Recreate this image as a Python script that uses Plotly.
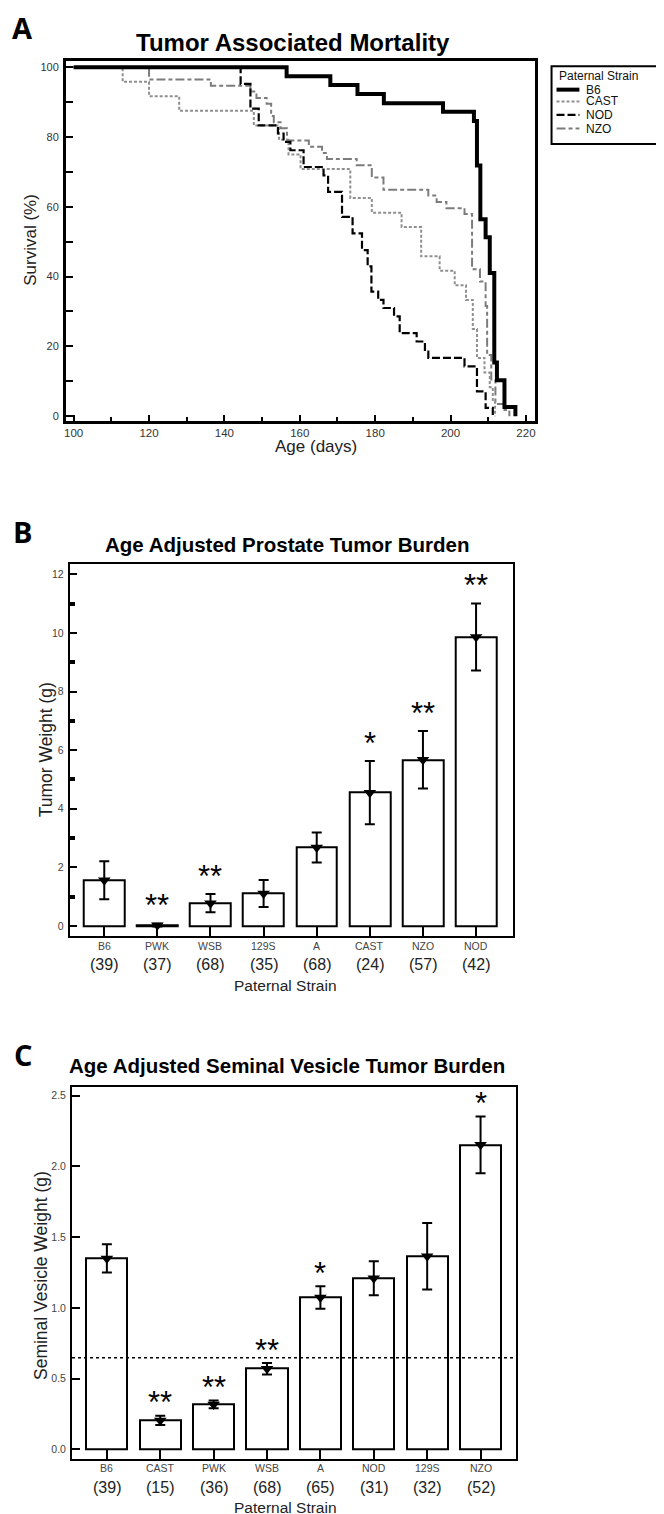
import plotly.graph_objects as go

W, H = 664, 1514

# ---------------- Panel A: survival curves ----------------
b6_age = [100, 156.5, 168.1, 175.3, 182.3, 198.0, 206.2, 207.0, 207.9, 209.3, 210.4, 211.6, 212.3, 214.3, 217.2]
b6_surv = [100, 97.4, 94.9, 92.3, 89.7, 87.2, 84.6, 71.8, 56.4, 51.3, 41.0, 15.4, 10.3, 2.6, 0]

cast_age = [100, 113.0, 120.0, 128.0, 147.8, 154.5, 157.0, 160.2, 173.4, 179.1, 187.0, 192.2, 197.1, 201.1, 204.1, 205.9, 207.0, 209.0, 210.4, 211.2, 211.8]
cast_surv = [100, 95.8, 91.7, 87.5, 83.3, 79.2, 75.0, 70.8, 62.5, 58.3, 54.2, 45.8, 41.7, 37.5, 33.3, 25.0, 16.7, 12.5, 8.3, 4.2, 0]

nod_age = [100, 144.3, 146.9, 149.1, 154.2, 155.7, 157.5, 161.0, 166.3, 167.5, 171.2, 174.0, 176.5, 178.0, 179.0, 180.8, 182.2, 185.0, 186.5, 191.0, 193.2, 194.1, 203.7, 207.0, 209.3, 211.2]
nod_surv = [100, 95.2, 88.1, 83.3, 81.0, 78.6, 76.2, 71.4, 69.0, 64.3, 57.1, 52.4, 47.6, 42.9, 35.7, 33.3, 31.0, 28.6, 23.8, 21.4, 19.0, 16.7, 14.3, 7.1, 2.4, 0]

nzo_age = [100, 120.0, 136.4, 146.9, 148.5, 151.2, 152.4, 153.1, 154.9, 156.6, 162.4, 165.9, 167.2, 175.1, 179.1, 182.2, 194.1, 196.3, 198.9, 203.7, 205.7, 207.8, 209.3, 209.7, 210.8, 211.9, 214.3, 215.6]
nzo_surv = [100, 96.5, 94.7, 93.0, 91.2, 89.5, 86.0, 84.2, 82.5, 79.0, 77.2, 75.4, 73.7, 71.9, 68.4, 64.9, 63.2, 61.4, 59.6, 57.9, 42.1, 38.6, 31.6, 17.5, 10.5, 3.5, 1.8, 0]

strain_names = ["B6", "CAST", "NOD", "NZO"]

# ---------------- Panel B: prostate tumor burden ----------------
pr_strains = ["B6", "PWK", "WSB", "129S", "A", "CAST", "NZO", "NOD"]
pr_n = [39, 37, 68, 35, 68, 24, 57, 42]
pr_mean = [1.56, 0.03, 0.78, 1.11, 2.68, 4.55, 5.67, 9.86]
pr_err = [0.65, 0.05, 0.31, 0.46, 0.51, 1.08, 0.98, 1.14]
pr_sig = ["", "**", "**", "", "", "*", "**", "**"]

# ---------------- Panel C: seminal vesicle burden ----------------
sv_strains = ["B6", "CAST", "PWK", "WSB", "A", "NOD", "129S", "NZO"]
sv_n = [39, 15, 36, 68, 65, 31, 32, 52]
sv_mean = [1.35, 0.205, 0.318, 0.57, 1.074, 1.21, 1.366, 2.153]
sv_err = [0.10, 0.033, 0.027, 0.04, 0.08, 0.12, 0.235, 0.20]
sv_sig = ["", "**", "**", "**", "*", "", "", "*"]
sv_reference = 0.648

# ---------------- styling ----------------
REG = "Liberation Sans, Arial, Helvetica"
LETTER = "Open Sans, Liberation Sans"

def px(x):
    return x / W

def py(y):
    return 1 - y / H

line_styles = {
    "B6": dict(color="black", width=4, dash="solid"),
    "CAST": dict(color="#8f8f8f", width=2, dash="3px,2px"),
    "NOD": dict(color="black", width=2.2, dash="8px,3px"),
    "NZO": dict(color="#7c7c7c", width=2, dash="9px,3px,4px,3px"),
}

fig = go.Figure()

surv_data = {"B6": (b6_age, b6_surv), "CAST": (cast_age, cast_surv),
             "NOD": (nod_age, nod_surv), "NZO": (nzo_age, nzo_surv)}
for name in ["NZO", "CAST", "NOD", "B6"]:
    a, s = surv_data[name]
    fig.add_trace(go.Scatter(x=a, y=s, mode="lines", line_shape="hv",
                             line=line_styles[name], name=name, showlegend=False,
                             xaxis="x", yaxis="y"))

# Bars panel B
fig.add_trace(go.Bar(x=pr_strains, y=pr_mean, width=0.77,
                     marker=dict(color="white", line=dict(color="black", width=2)),
                     showlegend=False, xaxis="x2", yaxis="y2"))
fig.add_trace(go.Scatter(x=pr_strains, y=pr_mean, mode="markers",
                         marker=dict(symbol="triangle-down", size=11, color="black"),
                         error_y=dict(type="data", array=pr_err, color="black", thickness=2, width=5),
                         showlegend=False, xaxis="x2", yaxis="y2"))

# Bars panel C
fig.add_trace(go.Bar(x=sv_strains, y=sv_mean, width=0.77,
                     marker=dict(color="white", line=dict(color="black", width=2)),
                     showlegend=False, xaxis="x3", yaxis="y3"))
fig.add_trace(go.Scatter(x=sv_strains, y=sv_mean, mode="markers",
                         marker=dict(symbol="triangle-down", size=11, color="black"),
                         error_y=dict(type="data", array=sv_err, color="black", thickness=2, width=5),
                         showlegend=False, xaxis="x3", yaxis="y3"))

ann = []
shapes = []

# Panel letters and titles
for letter, x, y in [("A", 13, 20), ("B", 12.5, 524), ("C", 13, 1047)]:
    ann.append(dict(text=f"<b>{letter}</b>", x=px(x), y=py(y), xref="paper", yref="paper",
                    showarrow=False, font=dict(family=LETTER, size=29, color="black"),
                    xanchor="center", yanchor="middle"))
ann.append(dict(text="<b>Tumor Associated Mortality</b>", x=px(284), y=py(35), xref="paper", yref="paper",
                showarrow=False, font=dict(family=REG, size=24, color="black"), xanchor="center", yanchor="middle"))
ann.append(dict(text="<b>Age Adjusted Prostate Tumor Burden</b>", x=px(278.5), y=py(536.7), xref="paper", yref="paper",
                showarrow=False, font=dict(family=REG, size=20.5, color="black"), xanchor="center", yanchor="middle"))
ann.append(dict(text="<b>Age Adjusted Seminal Vesicle Tumor Burden</b>", x=px(278.5), y=py(1058.3), xref="paper", yref="paper",
                showarrow=False, font=dict(family=REG, size=20.5, color="black"), xanchor="center", yanchor="middle"))

# Axis titles
ann.append(dict(text="Survival (%)", x=px(21), y=py(232), xref="paper", yref="paper", textangle=-90,
                showarrow=False, font=dict(family=REG, size=17, color="#222"), xanchor="center", yanchor="middle"))
ann.append(dict(text="Age (days)", x=px(307), y=py(439), xref="paper", yref="paper",
                showarrow=False, font=dict(family=REG, size=17, color="#222"), xanchor="center", yanchor="middle"))
ann.append(dict(text="Tumor Weight (g)", x=px(36), y=py(742), xref="paper", yref="paper", textangle=-90,
                showarrow=False, font=dict(family=REG, size=17.5, color="#222"), xanchor="center", yanchor="middle"))
ann.append(dict(text="Seminal Vesicle Weight (g)", x=px(31), y=py(1268), xref="paper", yref="paper", textangle=-90,
                showarrow=False, font=dict(family=REG, size=17.5, color="#222"), xanchor="center", yanchor="middle"))
for ycen in [978, 1500]:
    ann.append(dict(text="Paternal Strain", x=px(276.5), y=py(ycen), xref="paper", yref="paper",
                    showarrow=False, font=dict(family=REG, size=15.5, color="#222"), xanchor="center", yanchor="middle"))

# Category labels and counts
for xr, strains, ns, yname, ycount in [("x2", pr_strains, pr_n, 938.5, 957), ("x3", sv_strains, sv_n, 1461, 1480)]:
    for s, n in zip(strains, ns):
        ann.append(dict(text=s, x=s, y=py(yname), xref=xr, yref="paper", showarrow=False,
                        font=dict(family=REG, size=10.5, color="#444"), xanchor="center", yanchor="middle"))
        ann.append(dict(text=f"({n})", x=s, y=py(ycount), xref=xr, yref="paper", showarrow=False,
                        font=dict(family=REG, size=16, color="#222"), xanchor="center", yanchor="middle"))

# Significance stars
for xr, yr, strains, means, errs, sigs, shift in [("x2", "y2", pr_strains, pr_mean, pr_err, pr_sig, 24),
                                                  ("x3", "y3", sv_strains, sv_mean, sv_err, sv_sig, 19)]:
    for s, m, e, g in zip(strains, means, errs, sigs):
        if g:
            ann.append(dict(text=g, x=s, y=m + e, xref=xr, yref=yr, showarrow=False, yshift=shift - 6,
                            font=dict(family=REG, size=31, color="black"), xanchor="center", yanchor="middle"))

# Reference dashed line (panel C)
shapes.append(dict(type="line", xref="x3 domain", yref="y3", x0=0, x1=1, y0=sv_reference, y1=sv_reference,
                   line=dict(color="black", width=1.5, dash="dot")))

# Manual legend for panel A
shapes.append(dict(type="rect", xref="paper", yref="paper", x0=px(544), x1=px(657.3), y0=py(58.3), y1=py(136),
                   line=dict(color="black", width=2), fillcolor="white"))
ann.append(dict(text="Paternal Strain", x=px(549), y=py(68.3), xref="paper", yref="paper", showarrow=False,
                font=dict(family=REG, size=12, color="#111"), xanchor="left", yanchor="middle"))
for name, yy in zip(strain_names, [81.7, 93.5, 107, 120.7]):
    shapes.append(dict(type="line", xref="paper", yref="paper", x0=px(549), x1=px(572), y0=py(yy), y1=py(yy),
                       line=line_styles[name]))
    ann.append(dict(text=name, x=px(577), y=py(yy), xref="paper", yref="paper", showarrow=False,
                    font=dict(family=REG, size=12, color="#111"), xanchor="left", yanchor="middle"))

axis_common = dict(showgrid=False, zeroline=False, showline=True, linecolor="black", mirror=True)

fig.update_layout(
    width=W, height=H, autosize=False,
    margin=dict(l=0, r=0, t=0, b=0),
    paper_bgcolor="white", plot_bgcolor="white",
    showlegend=False, bargap=0,
    annotations=ann, shapes=shapes,
    xaxis=dict(domain=[px(56), px(527)], anchor="y", range=[97.9, 222.3],
               tickvals=[100, 120, 140, 160, 180, 200, 220], ticks="inside", ticklen=6, tickwidth=2,
               tickcolor="black", linewidth=2.5,
               minor=dict(tickvals=[110, 130, 150, 170, 190, 210], ticks="inside", ticklen=4, tickwidth=2, tickcolor="black"),
               tickfont=dict(family=REG, size=11.5, color="#333"), ticklabelstandoff=0, **axis_common),
    yaxis=dict(domain=[py(413), py(53.3)], anchor="x", range=[-1.3, 101.7],
               tickvals=[0, 20, 40, 60, 80, 100], ticks="inside", ticklen=8, tickwidth=2,
               tickcolor="black", linewidth=2.5,
               minor=dict(tickvals=[10, 30, 50, 70, 90], ticks="inside", ticklen=8, tickwidth=2, tickcolor="black"),
               tickfont=dict(family=REG, size=11, color="#333"), ticklabelstandoff=2, **axis_common),
    xaxis2=dict(domain=[px(60), px(505)], anchor="y2", type="category", categoryorder="array",
                categoryarray=pr_strains, range=[-0.65, 7.69], ticks="inside", ticklen=10, tickwidth=2,
                tickcolor="black", showticklabels=False, linewidth=2, **axis_common),
    yaxis2=dict(domain=[py(928.3), py(556.7)], anchor="x2", range=[-0.33, 12.34],
                tickvals=[0, 2, 4, 6, 8, 10, 12], ticks="inside", ticklen=7, tickwidth=1.5, tickcolor="black",
                minor=dict(tickvals=[1, 3, 5, 7, 9, 11], ticks="inside", ticklen=5, tickwidth=3.5, tickcolor="black"),
                tickfont=dict(family=REG, size=10.5, color="#444"), ticklabelstandoff=2, linewidth=2, **axis_common),
    xaxis3=dict(domain=[px(62.3), px(508.3)], anchor="y3", type="category", categoryorder="array",
                categoryarray=sv_strains, range=[-0.653, 7.664], ticks="inside", ticklen=10, tickwidth=2,
                tickcolor="black", showticklabels=False, linewidth=2, **axis_common),
    yaxis3=dict(domain=[py(1451.7), py(1080)], anchor="x3", range=[-0.066, 2.56],
                tickvals=[0, 0.5, 1.0, 1.5, 2.0, 2.5], tickformat=".1f", ticks="inside", ticklen=8, tickwidth=2,
                tickcolor="black", tickfont=dict(family=REG, size=10.5, color="#444"), ticklabelstandoff=2,
                linewidth=2, **axis_common),
)

fig.write_html("out.html")
